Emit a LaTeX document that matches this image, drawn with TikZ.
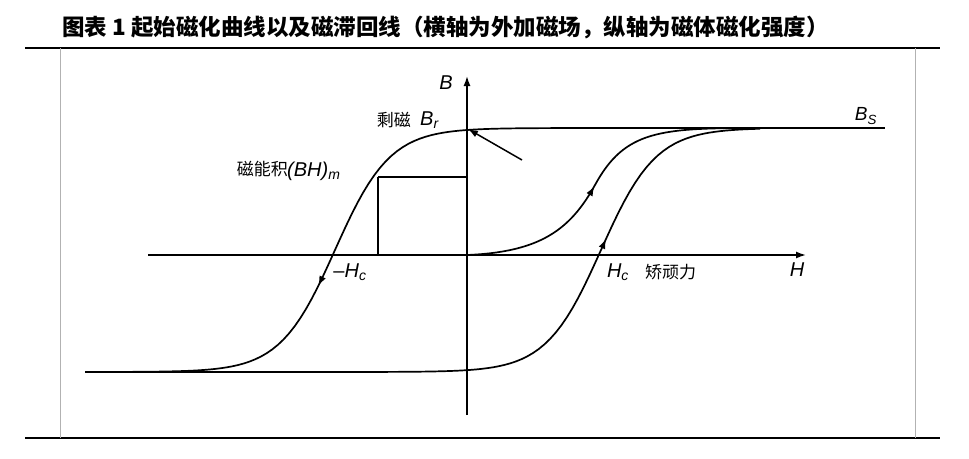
\documentclass[tikz,border=0pt]{standalone}
\usepackage{fontspec}
\setmainfont{Liberation Sans}
\newfontfamily\cjk{Noto Sans CJK SC}
\newfontfamily\cjkb{Noto Sans CJK SC Black}
\usetikzlibrary{arrows.meta,decorations.markings}
\begin{document}
\begin{tikzpicture}[x=1pt,y=-1pt,
  curve/.style={line width=1.7pt},
  ax/.style={line width=1.5pt,-{Latex[length=10pt,width=7pt]}},
  lbl/.style={font=\itshape\fontsize{20}{20}\selectfont,inner sep=0pt},
  cn/.style={font=\cjk\fontsize{17}{17}\selectfont,inner sep=0pt},
  mk/.style={postaction={decorate},decoration={markings,mark=at position #1 with {\arrow{Latex[length=10pt,width=7pt]}}}}]
\useasboundingbox (0,0) rectangle (969,458);
\node[font=\cjkb\fontsize{22.5}{22.5}\selectfont,anchor=west,inner sep=0pt] (title) at (62,28) {图表 1 起始磁化曲线以及磁滞回线（横轴为外加磁场，纵轴为磁体磁化强度）};
\draw[line width=1.8pt] (25,48) -- (940,48);
\draw[line width=1.8pt] (25,438) -- (940,438);
\draw[gray!60] (60,48) -- (60,438) (915,48) -- (915,438);
% axes
\coordinate (O) at (467,255);
\draw[ax] (467,415) -- (467,76);
\draw[ax] (148,255) -- (806,255);
\node[lbl] (B) at (446,83) {B};
\node[lbl] (H) at (797,270) {H};
% loop
\draw[curve,mk=0.66] plot[domain=760:85,samples=120] (\x,{250-122*tanh((\x-335)/55)});
\draw[curve] (760,128) -- (885,128);
\draw[curve,mk=0.74] plot[domain=85:760,samples=120] (\x,{250-122*tanh((\x-601)/55)});
% initial curve
\draw[curve,mk=0.45] (O) .. controls (540,252) and (570,230) .. (595,185) .. controls (625,130) and (660,128) .. (760,128);
% BH rectangle
\coordinate (P) at (378,177);
\draw[line width=1.5pt] (P) -- (467,177) (P) -- (378,255);
% arrow to Br
\coordinate (Br) at (468,129);
\coordinate (Bt) at (522,160);
\draw[line width=1.5pt,-{Latex[length=10pt,width=7pt]}] (Bt) -- (Br);
% labels
\node[cn,anchor=east] (sc) at (411,120) {剩磁};
\node[lbl,anchor=west] (brl) at (420,120) {B\textsubscript{r}};
\node[lbl,font=\itshape\fontsize{19}{19}\selectfont] (bs) at (866,116) {B\textsubscript{S}};
\node[cn,anchor=east] (nj) at (288,169) {磁能积};
\node[lbl,anchor=west] (bhm) at (287,171) {(BH)\textsubscript{m}};
\node[lbl] (mhc) at (350,272) {{\upshape\textendash}H\textsubscript{c}};
\node[lbl] (hc) at (618,272) {H\textsubscript{c}};
\node[cn,anchor=west] (jw) at (645,272) {矫顽力};
\end{tikzpicture}
\end{document}
